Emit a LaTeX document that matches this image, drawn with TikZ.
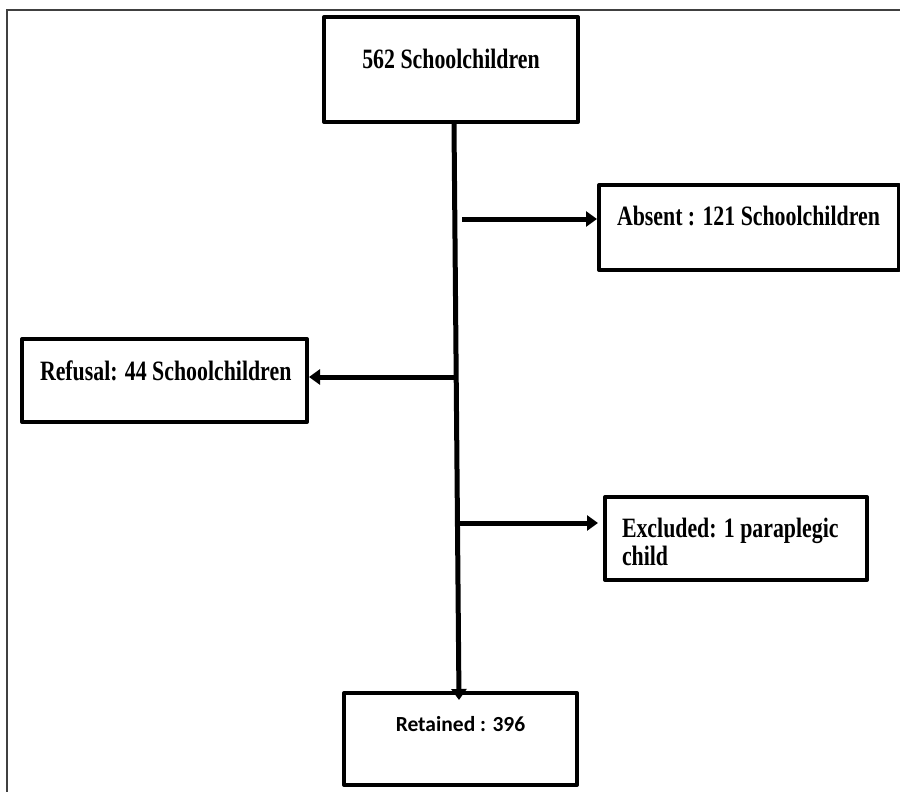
\documentclass[tikz,border=0pt]{standalone}
\usepackage{fontspec}
\setmainfont{Liberation Serif}[FakeStretch=0.78]
\newfontfamily\calib{Carlito}
\usetikzlibrary{arrows.meta}
\begin{document}
\begin{tikzpicture}[x=1pt,y=-1pt,
  box/.style={draw, line width=4pt, line join=round, inner ysep=0pt, font=\fontsize{28}{28}\selectfont\bfseries},
  conn/.style={line width=5pt, -{Triangle[length=11pt,width=15pt]}},
]
\useasboundingbox (0,0) rectangle (900,792);
\draw[line width=1.5pt, black!75] (7,792) -- (7,10) -- (900,10);
\node[box, anchor=north west, minimum width=254pt, text height=52pt, text depth=53pt] (top) at (322,15) {562 Schoolchildren};
\node[box, anchor=north west, inner xsep=18pt, text width=264pt, align=flush left, text height=40pt, text depth=45pt] (absent) at (597,183) {\mbox{Absent : 121 Schoolchildren}};
\node[box, anchor=north west, inner xsep=18pt, text width=249pt, align=flush left, text height=41pt, text depth=42pt] (refusal) at (20,337) {\mbox{Refusal: 44 Schoolchildren}};
\node[box, anchor=north west, inner xsep=17pt, text width=228pt, align=flush left, text height=40pt, text depth=43pt] (excluded) at (603,495) {\mbox{Excluded: 1 paraplegic}\\child};
\node[box, anchor=north west, minimum width=233pt, text height=38pt, text depth=54pt, font=\calib\fontsize{21.5}{24}\selectfont\bfseries] (ret) at (342,691) {Retained : 396};
\draw[conn] ([xshift=3pt]top.south) -- ([xshift=-1.5pt,yshift=-9pt]ret.north);
\coordinate (a0) at (462,219);
\draw[conn] (a0) -- (a0 -| absent.west);
\coordinate (r0) at (455,377);
\draw[conn] (r0) -- (r0 -| refusal.east);
\coordinate (e0) at (460,523);
\draw[conn, shorten >=5pt] (e0) -- (e0 -| excluded.west);
\end{tikzpicture}
\end{document}
